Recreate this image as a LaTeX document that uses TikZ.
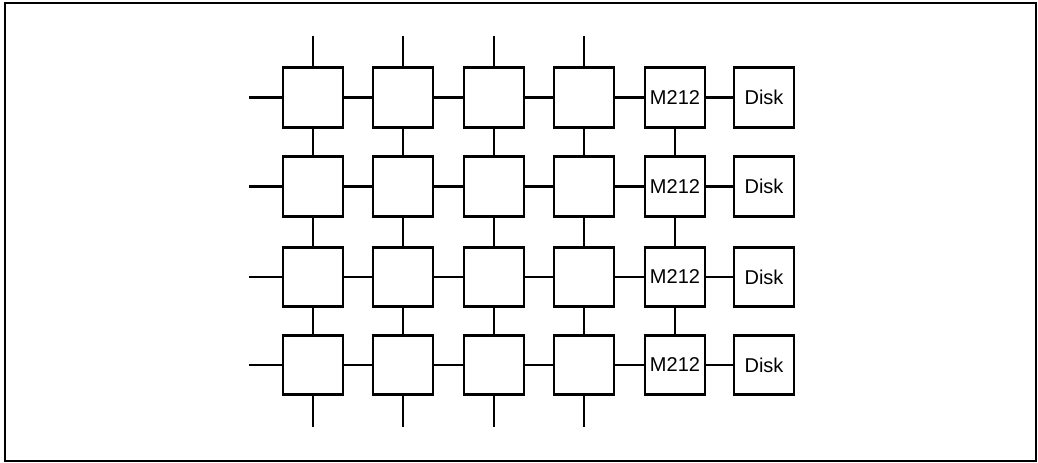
\documentclass[tikz,border=0pt]{standalone}
\usepackage{fontspec}
\setmainfont{Liberation Sans}
\begin{document}
\begin{tikzpicture}[x=0.75pt,y=-0.75pt,
  cell/.style={draw,line width=2.2pt,minimum width=45pt,minimum height=44.5pt,inner sep=0pt,font=\fontsize{15}{17}\selectfont},
  link/.style={line width=2pt}]
\useasboundingbox (0,0) rectangle (1038,463);
\draw[line width=1.1pt] (5,3) rectangle (1036,461);
\foreach \r/\y in {1/97.5,2/186.5,3/277,4/365}{
  \foreach \c/\x in {1/313,2/403,3/494,4/584}{
    \node[cell] (n\r\c) at (\x,\y) {};
  }
  \node[cell] (m\r) at (675,\y) {M212};
  \node[cell] (d\r) at (764,\y) {Disk};
  \coordinate (l\r) at (249,\y);
  \draw[link] (l\r) -- (n\r1);
  \draw[link] (n\r1) -- (n\r2);
  \draw[link] (n\r2) -- (n\r3);
  \draw[link] (n\r3) -- (n\r4);
  \draw[link] (n\r4) -- (m\r);
  \draw[link] (m\r) -- (d\r);
}
\foreach \r/\s in {1/2,2/3,3/4}{
  \foreach \c in {1,2,3,4}{
    \draw[link] (n\r\c) -- (n\s\c);
  }
  \draw[link] (m\r) -- (m\s);
}
\foreach \c/\x in {1/313,2/403,3/494,4/584}{
  \coordinate (t\c) at (\x,36);
  \coordinate (b\c) at (\x,427);
  \draw[link] (t\c) -- (n1\c);
  \draw[link] (n4\c) -- (b\c);
}
\end{tikzpicture}
\end{document}
